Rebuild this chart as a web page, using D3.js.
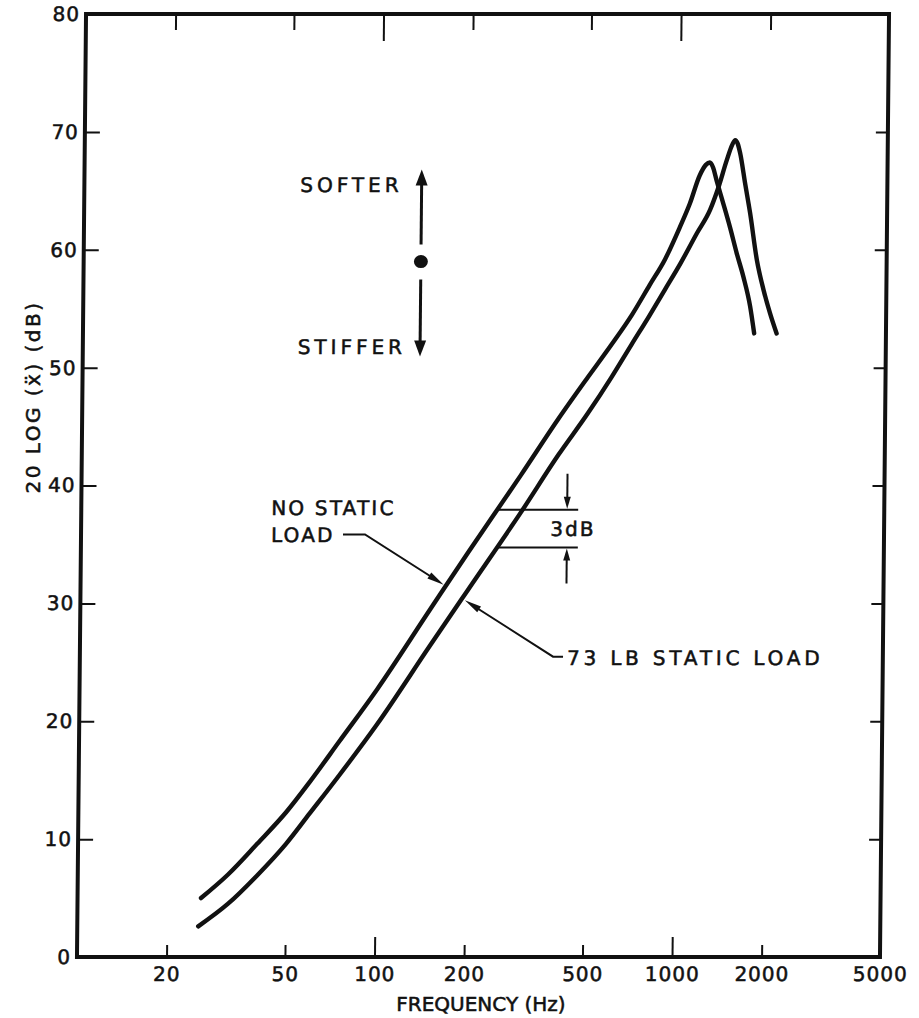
<!DOCTYPE html>
<html>
<head>
<meta charset="utf-8">
<script src="https://cdn.jsdelivr.net/npm/d3@7"></script>
<style>
  body { margin: 0; background: #fff; }
  text { font-family: "DejaVu Sans", sans-serif; fill: #111; stroke: #111; stroke-width: 0.55px; }
</style>
</head>
<body>
<div id="chart"></div>
<script>
/****************************************/
/*****  Data   *****/
/****************************************/
const freqLabels = [20, 50, 100, 200, 500, 1000, 2000, 5000];
const freqMinorTicks = [20, 50, 200, 500, 2000];
const freqMajorTicks = [100, 1000];
const dbLabels = [0, 10, 20, 30, 40, 50, 60, 70, 80];
const dbTicks = [10, 20, 30, 40, 50, 60, 70];

// no static load (upper curve at low frequency)
const noLoadFreq = [26, 32, 40, 50, 60, 75, 100, 150, 200, 300, 400, 500, 600, 700, 800, 900, 1006, 1085, 1169, 1225, 1263, 1295, 1332, 1407, 1484, 1566, 1652, 1744, 1803];
const noLoadDb   = [5.0, 7.0, 9.6, 12.3, 14.9, 18.3, 22.7, 29.5, 34.3, 40.9, 45.7, 49.2, 52.0, 54.5, 57.0, 59.2, 61.9, 63.9, 66.3, 67.2, 67.4, 67.0, 65.9, 63.9, 61.9, 59.7, 57.7, 55.2, 52.9];

// 73 lb static load
const loadFreq = [25.5, 32, 40, 50, 60, 75, 100, 150, 200, 300, 400, 500, 600, 700, 800, 900, 1012, 1149, 1271, 1353, 1440, 1500, 1535, 1565, 1596, 1663, 1732, 1832, 1932, 2036, 2145];
const loadDb   = [2.6, 4.5, 6.9, 9.6, 12.2, 15.4, 19.7, 26.4, 31.1, 37.7, 42.6, 46.1, 49.2, 52.0, 54.4, 56.6, 58.8, 61.4, 63.4, 65.3, 67.6, 68.9, 69.3, 69.0, 68.2, 65.6, 63.1, 59.1, 56.6, 54.6, 52.9];

/****************************************/
/*****  Chart   *****/
/****************************************/
const width = 919;
const height = 1018;
const font = '"DejaVu Sans", sans-serif';
const ink = '#111';

const svg = d3.select('#chart')
  .append('svg')
    .attr('width', width)
    .attr('height', height)
    .attr('viewBox', [0, 0, width, height]);

const x = d3.scaleLog().domain([10, 5000]).range([81.5, 884.5]);
const y = d3.scaleLinear().domain([0, 80]).range([957, 14]);

// the scanned original leans slightly, top edge sits a few px right of the bottom
const midY = (y(0) + y(80)) / 2;
const plot = svg.append('g')
  .attr('transform', `translate(0,${midY}) skewX(-0.55) translate(0,${-midY})`);

// frame
plot.append('rect')
  .attr('x', x(10))
  .attr('y', y(80))
  .attr('width', x(5000) - x(10))
  .attr('height', y(0) - y(80))
  .attr('fill', 'none')
  .attr('stroke', ink)
  .attr('stroke-width', 4);

function styleAxis(g) {
  g.select('.domain').remove();
  g.selectAll('line').attr('stroke', ink).attr('stroke-width', 2);
  g.selectAll('text')
    .attr('font-family', font)
    .attr('font-size', 20)
    .attr('letter-spacing', 1)
    .attr('fill', ink);
}

// ticks on all four sides point inwards
plot.append('g')
  .attr('transform', `translate(0,${y(0)})`)
  .call(d3.axisBottom(x).tickValues(freqMinorTicks).tickSizeInner(-12).tickSizeOuter(0).tickFormat(''))
  .call(styleAxis);
plot.append('g')
  .attr('transform', `translate(0,${y(0)})`)
  .call(d3.axisBottom(x).tickValues(freqMajorTicks).tickSizeInner(-20).tickSizeOuter(0).tickFormat(''))
  .call(styleAxis);
plot.append('g')
  .attr('transform', `translate(0,${y(80)})`)
  .call(d3.axisTop(x).tickValues(freqMinorTicks).tickSizeInner(-16).tickSizeOuter(0).tickFormat(''))
  .call(styleAxis);
plot.append('g')
  .attr('transform', `translate(0,${y(80)})`)
  .call(d3.axisTop(x).tickValues(freqMajorTicks).tickSizeInner(-27).tickSizeOuter(0).tickFormat(''))
  .call(styleAxis);
plot.append('g')
  .attr('transform', `translate(${x(10)},0)`)
  .call(d3.axisLeft(y).tickValues(dbTicks).tickSizeInner(-15).tickSizeOuter(0).tickFormat(''))
  .call(styleAxis);
plot.append('g')
  .attr('transform', `translate(${x(5000)},0)`)
  .call(d3.axisRight(y).tickValues(dbTicks).tickSizeInner(-12).tickSizeOuter(0).tickFormat(''))
  .call(styleAxis);

// tick labels
plot.append('g')
  .attr('transform', `translate(0,${y(0)})`)
  .call(d3.axisBottom(x).tickValues(freqLabels).tickSize(0).tickPadding(10).tickFormat(d3.format('d')))
  .call(styleAxis);
plot.append('g')
  .attr('transform', `translate(${x(10)},0)`)
  .call(d3.axisLeft(y).tickValues(dbLabels).tickSize(0).tickPadding(6).tickFormat(d3.format('d')))
  .call(styleAxis);

// axis titles
svg.append('text')
  .attr('x', 481)
  .attr('y', 1011)
  .attr('text-anchor', 'middle')
  .attr('font-size', 20)
  .text('FREQUENCY (Hz)');

svg.append('text')
  .attr('transform', 'translate(40,397) rotate(-90)')
  .attr('text-anchor', 'middle')
  .attr('font-size', 20)
  .attr('letter-spacing', 2.5)
  .text('20 LOG (ẍ) (dB)');

// curves
const line = d3.line()
  .x(d => x(d[0]))
  .y(d => y(d[1]))
  .curve(d3.curveMonotoneX);

plot.append('g')
  .selectAll('path')
  .data([d3.zip(noLoadFreq, noLoadDb), d3.zip(loadFreq, loadDb)])
  .join('path')
    .attr('d', line)
    .attr('fill', 'none')
    .attr('stroke', ink)
    .attr('stroke-width', 4.4)
    .attr('stroke-linecap', 'round')
    .attr('stroke-linejoin', 'round');

/****************************************/
/*****  Annotations   *****/
/****************************************/
// value of a curve at a frequency, linear in log f
function valueAt(freqs, dbs, f) {
  const i = d3.bisectLeft(freqs, f);
  const t = (Math.log(f) - Math.log(freqs[i - 1])) / (Math.log(freqs[i]) - Math.log(freqs[i - 1]));
  return dbs[i - 1] + t * (dbs[i] - dbs[i - 1]);
}

// filled triangle, tip at (tx,ty), pointing along angle (radians)
function arrowHead(g, tx, ty, angle, len, halfW) {
  const bx = tx - len * Math.cos(angle);
  const by = ty - len * Math.sin(angle);
  const nx = -Math.sin(angle) * halfW;
  const ny = Math.cos(angle) * halfW;
  g.append('path')
    .attr('d', `M${tx},${ty}L${bx + nx},${by + ny}L${bx - nx},${by - ny}Z`)
    .attr('fill', ink);
}

function label(g, px, py, txt, spacing, anchor) {
  g.append('text')
    .attr('x', px).attr('y', py)
    .attr('text-anchor', anchor || 'start')
    .attr('font-size', 20)
    .attr('letter-spacing', spacing)
    .text(txt);
}

const ann = plot.append('g');

// softer / stiffer indicator
const dotX = x(136);
const dotY = y(59);
ann.append('ellipse')
  .attr('cx', dotX).attr('cy', dotY)
  .attr('rx', 7).attr('ry', 6.5)
  .attr('fill', ink);
ann.append('line')
  .attr('x1', dotX).attr('y1', dotY - 17)
  .attr('x2', dotX).attr('y2', dotY - 80)
  .attr('stroke', ink).attr('stroke-width', 3);
arrowHead(ann, dotX, dotY - 92, -Math.PI / 2, 16, 6);
ann.append('line')
  .attr('x1', dotX).attr('y1', dotY + 18)
  .attr('x2', dotX).attr('y2', dotY + 82)
  .attr('stroke', ink).attr('stroke-width', 3);
arrowHead(ann, dotX, dotY + 95, Math.PI / 2, 16, 6);
label(ann, dotX - 19, dotY - 70, 'SOFTER', 4, 'end');
label(ann, dotX - 14, dotY + 92, 'STIFFER', 4, 'end');

// no static load label, leader to the upper curve
const lx1 = x(43.5);
label(ann, lx1, y(37.5), 'NO STATIC', 2.2);
label(ann, lx1, y(35.2), 'LOAD', 2.2);
const t1x = x(170) - 3;
const t1y = y(valueAt(noLoadFreq, noLoadDb, 170));
const b1x = lx1 + 94;
const b1y = y(35.85);
const a1 = Math.atan2(t1y - b1y, t1x - b1x);
ann.append('path')
  .attr('d', `M${lx1 + 72},${b1y}H${b1x}L${t1x - 12 * Math.cos(a1)},${t1y - 12 * Math.sin(a1)}`)
  .attr('fill', 'none')
  .attr('stroke', ink).attr('stroke-width', 2);
arrowHead(ann, t1x, t1y, a1, 17, 3.5);

// 73 lb label, leader to the lower curve
const lx2 = x(434);
const ly2 = y(24.8);
label(ann, lx2, ly2, '73 LB STATIC LOAD', 3.8);
const t2x = x(190) + 4;
const t2y = y(valueAt(loadFreq, loadDb, 190));
const b2x = lx2 - 14;
const b2y = ly2 - 8;
const a2 = Math.atan2(t2y - b2y, t2x - b2x);
ann.append('path')
  .attr('d', `M${lx2 - 4},${b2y}H${b2x}L${t2x - 12 * Math.cos(a2)},${t2y - 12 * Math.sin(a2)}`)
  .attr('fill', 'none')
  .attr('stroke', ink).attr('stroke-width', 2);
arrowHead(ann, t2x, t2y, a2, 17, 3.5);

// 3 dB gap marker
const f3 = 250;
const gx = x(f3);
const gTop = y(valueAt(noLoadFreq, noLoadDb, f3));
const gBot = y(valueAt(loadFreq, loadDb, f3));
[gTop, gBot].forEach(gy => {
  ann.append('line')
    .attr('x1', gx).attr('y1', gy)
    .attr('x2', gx + 81).attr('y2', gy)
    .attr('stroke', ink).attr('stroke-width', 2);
});
ann.append('line')
  .attr('x1', gx + 70).attr('y1', gTop - 36)
  .attr('x2', gx + 70).attr('y2', gTop - 10)
  .attr('stroke', ink).attr('stroke-width', 2);
arrowHead(ann, gx + 70, gTop - 1, Math.PI / 2, 12, 3.5);
ann.append('line')
  .attr('x1', gx + 70).attr('y1', gBot + 36)
  .attr('x2', gx + 70).attr('y2', gBot + 10)
  .attr('stroke', ink).attr('stroke-width', 2);
arrowHead(ann, gx + 70, gBot + 1, -Math.PI / 2, 12, 3.5);
label(ann, gx + 76, (gTop + gBot) / 2 + 7, '3dB', 2, 'middle');
</script>
</body>
</html>
